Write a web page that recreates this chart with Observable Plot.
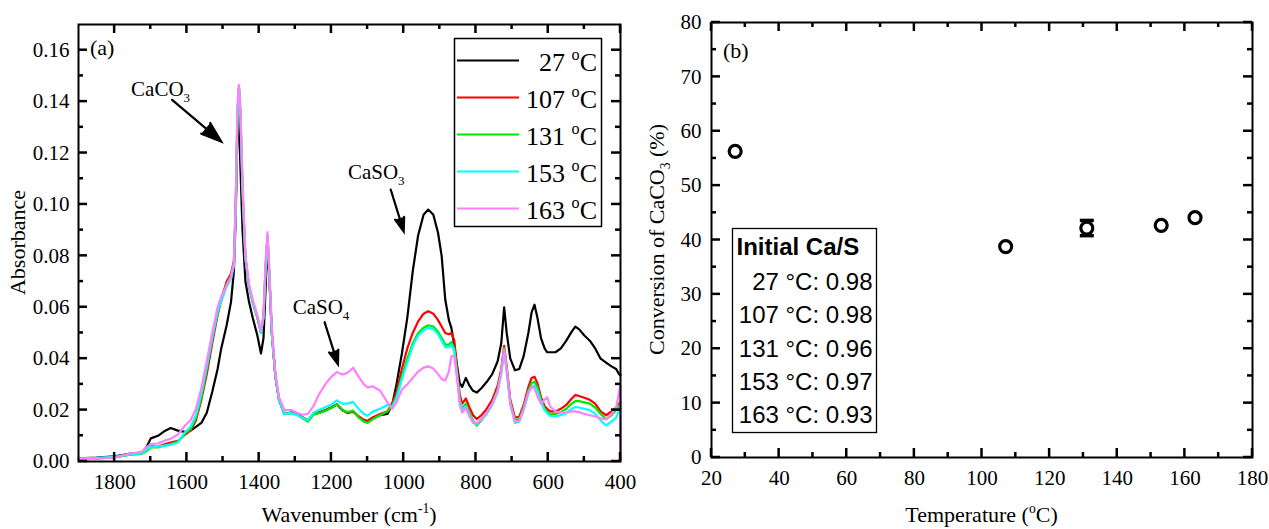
<!DOCTYPE html>
<html><head><meta charset="utf-8">
<script src="https://cdn.jsdelivr.net/npm/d3@7"></script>
<script src="https://cdn.jsdelivr.net/npm/@observablehq/plot@0.6"></script>
<style>
body{margin:0;background:#fff;}
#wrap{display:flex;width:1269px;height:529px;}
svg{overflow:visible}
</style></head><body><div id="wrap"></div>
<script>
// ---------- Panel (a) data: FTIR spectra ----------
const wavenumbers = [
  1900,1850,1800,1760,1725,1712,1700,1680,1660,1645,
  1625,1605,1590,1575,1560,1545,1530,1515,1505,1490,
  1478,1470,1465,1460,1456,1452,1446,1438,1428,1418,
  1405,1395,1388,1382,1377,1372,1365,1355,1345,1330,
  1310,1295,1280,1265,1250,1235,1215,1200,1185,1170,
  1155,1140,1125,1110,1100,1085,1065,1045,1032,1020,
  1005,990,975,960,945,932,918,905,895,885,
  875,868,860,852,845,838,828,818,808,798,
  785,770,755,740,730,722,715,705,692,680,
  668,655,646,638,630,620,610,603,595,580,
  565,550,535,525,515,500,485,470,455,440,
  425,412,404,400,400
];
const abs27 = [
  .0012,.0015,.0020,.0030,.0035,.0055,.0090,.0100,.0120,.0130,
  .0120,.0115,.0120,.0135,.0150,.0190,.0270,.0360,.0440,.0530,
  .0620,.0740,.0950,.1300,.1340,.1150,.0900,.0700,.0620,.0560,
  .0490,.0420,.0480,.0680,.0850,.0720,.0500,.0330,.0240,.0185,
  .0190,.0185,.0170,.0160,.0185,.0190,.0200,.0210,.0222,.0200,
  .0190,.0195,.0175,.0160,.0155,.0170,.0180,.0185,.0220,.0300,
  .0420,.0560,.0740,.0880,.0960,.0980,.0960,.0890,.0800,.0630,
  .0550,.0520,.0450,.0370,.0305,.0290,.0325,.0295,.0275,.0268,
  .0285,.0310,.0340,.0390,.0460,.0600,.0500,.0400,.0355,.0360,
  .0410,.0500,.0580,.0610,.0560,.0480,.0440,.0425,.0425,.0425,
  .0440,.0470,.0505,.0525,.0515,.0490,.0470,.0440,.0400,.0385,
  .0370,.0360,.0340,.0335,.0335
];
const abs107 = [
  .0010,.0012,.0017,.0028,.0032,.0045,.0060,.0057,.0068,.0074,
  .0080,.0105,.0120,.0160,.0240,.0340,.0460,.0570,.0630,.0700,
  .0730,.0780,.0990,.1350,.1455,.1350,.1050,.0790,.0680,.0620,
  .0560,.0500,.0560,.0760,.0875,.0730,.0500,.0330,.0240,.0185,
  .0190,.0185,.0172,.0160,.0185,.0190,.0200,.0210,.0222,.0200,
  .0188,.0195,.0175,.0162,.0158,.0172,.0185,.0195,.0225,.0270,
  .0360,.0440,.0500,.0545,.0575,.0585,.0575,.0550,.0525,.0500,
  .0495,.0500,.0470,.0360,.0260,.0225,.0245,.0210,.0180,.0165,
  .0180,.0205,.0240,.0295,.0360,.0450,.0370,.0240,.0170,.0175,
  .0220,.0290,.0325,.0330,.0305,.0250,.0215,.0205,.0195,.0195,
  .0205,.0220,.0245,.0258,.0255,.0248,.0240,.0225,.0195,.0180,
  .0195,.0210,.0225,.0230,.0230
];
const abs131 = [
  .0010,.0012,.0016,.0026,.0030,.0040,.0055,.0055,.0063,.0068,
  .0076,.0110,.0125,.0170,.0250,.0360,.0480,.0575,.0625,.0690,
  .0720,.0770,.0980,.1350,.1455,.1350,.1050,.0790,.0680,.0620,
  .0560,.0505,.0560,.0760,.0875,.0730,.0500,.0330,.0240,.0185,
  .0188,.0182,.0168,.0155,.0182,.0188,.0198,.0208,.0222,.0200,
  .0192,.0198,.0172,.0155,.0150,.0165,.0180,.0195,.0215,.0255,
  .0330,.0400,.0460,.0500,.0520,.0530,.0525,.0505,.0480,.0455,
  .0455,.0465,.0440,.0340,.0240,.0205,.0225,.0190,.0160,.0140,
  .0160,.0190,.0225,.0280,.0350,.0440,.0360,.0230,.0160,.0165,
  .0210,.0275,.0305,.0310,.0290,.0240,.0205,.0195,.0185,.0185,
  .0192,.0205,.0225,.0235,.0235,.0230,.0225,.0210,.0185,.0165,
  .0180,.0200,.0220,.0225,.0225
];
const abs153 = [
  .0012,.0014,.0018,.0027,.0032,.0045,.0058,.0058,.0062,.0065,
  .0075,.0115,.0135,.0180,.0265,.0370,.0480,.0585,.0625,.0680,
  .0710,.0760,.0970,.1360,.1460,.1360,.1060,.0790,.0680,.0620,
  .0565,.0500,.0560,.0760,.0880,.0730,.0500,.0330,.0240,.0185,
  .0188,.0180,.0170,.0160,.0190,.0200,.0212,.0222,.0238,.0225,
  .0225,.0232,.0205,.0185,.0178,.0195,.0205,.0220,.0212,.0245,
  .0320,.0385,.0450,.0490,.0510,.0520,.0515,.0495,.0470,.0445,
  .0445,.0455,.0430,.0330,.0235,.0200,.0215,.0180,.0155,.0145,
  .0165,.0185,.0220,.0270,.0340,.0430,.0350,.0220,.0150,.0155,
  .0200,.0265,.0290,.0295,.0275,.0230,.0200,.0188,.0178,.0175,
  .0180,.0188,.0205,.0212,.0210,.0205,.0200,.0185,.0160,.0140,
  .0155,.0170,.0200,.0205,.0205
];
const abs163 = [
  .0008,.0011,.0016,.0030,.0038,.0055,.0068,.0070,.0082,.0088,
  .0105,.0140,.0160,.0205,.0285,.0390,.0500,.0600,.0640,.0685,
  .0720,.0770,.1000,.1380,.1465,.1380,.1080,.0800,.0690,.0630,
  .0570,.0510,.0570,.0780,.0892,.0750,.0520,.0340,.0250,.0200,
  .0200,.0190,.0182,.0185,.0215,.0260,.0305,.0330,.0348,.0338,
  .0345,.0365,.0330,.0300,.0288,.0292,.0275,.0230,.0205,.0230,
  .0280,.0300,.0325,.0350,.0365,.0370,.0362,.0340,.0320,.0315,
  .0350,.0410,.0410,.0320,.0220,.0190,.0210,.0175,.0150,.0148,
  .0165,.0190,.0225,.0275,.0345,.0435,.0360,.0225,.0155,.0158,
  .0205,.0270,.0290,.0285,.0255,.0225,.0240,.0250,.0215,.0195,
  .0190,.0190,.0195,.0195,.0192,.0185,.0180,.0175,.0168,.0165,
  .0185,.0210,.0270,.0295,.0000
];
const seriesNames = ["27", "107", "131", "153", "163"];
const seriesColors = ["#000000", "#ff0000", "#00e800", "#00ffff", "#ff80ff"];
const seriesValues = [abs27, abs107, abs131, abs153, abs163];

const xTicksA = [1800, 1600, 1400, 1200, 1000, 800, 600, 400];
const xMinorA = [1700, 1500, 1300, 1100, 900, 700, 500];
const yTicksA = [0, 0.02, 0.04, 0.06, 0.08, 0.10, 0.12, 0.14, 0.16];
const yMinorA = [0.01, 0.03, 0.05, 0.07, 0.09, 0.11, 0.13, 0.15];

// annotations (data coordinates)
const annotLabels = ["CaCO{_3}", "CaSO{_3}", "CaSO{_4}"];
const annotTextX = [1753, 1153, 1306];
const annotTextY = [0.1419, 0.1097, 0.0572];
const annotFromX = [1641, 1036, 1219];
const annotFromY = [0.1407, 0.1058, 0.0542];
const annotToX = [1505, 1000, 1182];
const annotToY = [0.1245, 0.0895, 0.0378];

// ---------- Panel (b) data ----------
const temperatures = [27, 107, 131, 153, 163];
const conversion = [56.3, 38.8, 42.2, 42.7, 44.1];
const convError = [0, 0, 1.4, 0, 0];
const caS = ["0.98", "0.98", "0.96", "0.97", "0.93"];
const xTicksB = [20, 40, 60, 80, 100, 120, 140, 160, 180];
const xMinorB = [30, 50, 70, 90, 110, 130, 150, 170];
const yTicksB = [0, 10, 20, 30, 40, 50, 60, 70, 80];
const yMinorB = [5, 15, 25, 35, 45, 55, 65, 75];

// ---------- helpers ----------
function richText(t, str, fs) {
  const re = /\{([_^])([^}]*)\}/g;
  let last = 0, m, shift = 0;
  const add = (txt, mode) => {
    if (!txt) return;
    const ts = t.append("tspan").text(txt);
    const target = mode === "_" ? fs * 0.28 : mode === "^" ? -fs * 0.42 : 0;
    if (target - shift !== 0) ts.attr("dy", target - shift);
    shift = target;
    if (mode) ts.attr("font-size", fs * 0.62);
  };
  while ((m = re.exec(str))) { add(str.slice(last, m.index), null); add(m[2], m[1]); last = re.lastIndex; }
  add(str.slice(last), null);
  return t;
}
const serif = "'Liberation Serif', 'Times New Roman', serif";
const sans = "'Liberation Sans', Arial, sans-serif";
const H = 529;
const MAJ = 9, MIN = 5;

// inward ticks on all four sides, positioned with the chart's own scales
function drawTicks(svg, chart, W, m, xMaj, xMin, yMaj, yMin) {
  const sx = chart.scale("x"), sy = chart.scale("y");
  const t0 = m.top, b0 = H - m.bottom, l0 = m.left, r0 = W - m.right;
  const g = svg.append("g").attr("stroke", "black").attr("stroke-width", 2.5);
  const seg = (x1, y1, x2, y2) => g.append("line").attr("x1", x1).attr("y1", y1).attr("x2", x2).attr("y2", y2);
  xMaj.forEach(v => { const x = sx.apply(v); seg(x, b0, x, b0 - MAJ); seg(x, t0, x, t0 + MAJ); });
  xMin.forEach(v => { const x = sx.apply(v); seg(x, b0, x, b0 - MIN); seg(x, t0, x, t0 + MIN); });
  yMaj.forEach(v => { const y = sy.apply(v); seg(l0, y, l0 + MAJ, y); seg(r0, y, r0 - MAJ, y); });
  yMin.forEach(v => { const y = sy.apply(v); seg(l0, y, l0 + MIN, y); seg(r0, y, r0 - MIN, y); });
}

// ---------- Panel (a) ----------
const W_A = 640;
const mA = {top: 24, right: 20, bottom: 68, left: 78};
const inHA = H - mA.top - mA.bottom, inWA = W_A - mA.left - mA.right;

const lineMarks = seriesValues.map((vals, k) =>
  Plot.line(wavenumbers.map((w, i) => ({w, v: vals[i]})), {x: "w", y: "v", stroke: seriesColors[k], strokeWidth: 2.2})
);
const annot = annotLabels.map((l, i) => ({l, x1: annotFromX[i], y1: annotFromY[i], x2: annotToX[i], y2: annotToY[i]}));

const chartA = Plot.plot({
  width: W_A, height: H,
  marginTop: mA.top, marginRight: mA.right, marginBottom: mA.bottom, marginLeft: mA.left,
  style: {fontFamily: serif, fontSize: "21px", color: "black", background: "white", overflow: "visible"},
  x: {domain: [1900, 400]},
  y: {domain: [0, 0.17]},
  marks: [
    ...lineMarks,
    Plot.arrow(annot, {x1: "x1", y1: "y1", x2: "x2", y2: "y2", stroke: "black", fill: "black", strokeWidth: 2.2, headLength: 15, headAngle: 38, strokeLinejoin: "miter", strokeMiterlimit: 10}),
    Plot.frame({stroke: "black", strokeWidth: 2}),
    Plot.axisX({ticks: xTicksA, tickSize: 0, tickPadding: 13, tickFormat: d => String(d), label: null}),
    Plot.axisY({ticks: yTicksA, tickSize: 0, tickPadding: 9, tickFormat: d3.format(".2f"), label: null})
  ]
});

const sA = d3.select(chartA);
const sxA = chartA.scale("x"), syA = chartA.scale("y");
drawTicks(sA, chartA, W_A, mA, xTicksA, xMinorA, yTicksA, yMinorA);
annotLabels.forEach((l, i) => {
  const t = sA.append("text").attr("x", sxA.apply(annotTextX[i])).attr("y", syA.apply(annotTextY[i]))
    .attr("text-anchor", "start").attr("font-size", 21).attr("fill", "black");
  richText(t, l, 21);
});
sA.append("text").attr("x", mA.left + 12).attr("y", mA.top + 31).attr("text-anchor", "start").attr("font-size", 22).text("(a)");
richText(sA.append("text").attr("x", mA.left + inWA / 2).attr("y", 522).attr("text-anchor", "middle").attr("font-size", 22), "Wavenumber (cm{^-1})", 22);
sA.append("text").attr("transform", `translate(25,${mA.top + inHA / 2}) rotate(-90)`).attr("text-anchor", "middle").attr("font-size", 22).text("Absorbance");

const lgA = sA.append("g");
lgA.append("rect").attr("x", 454.5).attr("y", 38.5).attr("width", 147).attr("height", 188)
  .attr("fill", "white").attr("stroke", "black").attr("stroke-width", 1.5);
seriesNames.forEach((n, i) => {
  const y = 60.5 + 37 * i;
  lgA.append("line").attr("x1", 457).attr("x2", 519).attr("y1", y).attr("y2", y)
    .attr("stroke", seriesColors[i]).attr("stroke-width", 2.2);
  const t = lgA.append("text").attr("x", 597).attr("y", y + 10).attr("text-anchor", "end").attr("font-size", 26);
  richText(t, n + " {^o}C", 26);
});

// ---------- Panel (b) ----------
const W_B = 629;
const mB = {top: 22, right: 17, bottom: 72, left: 71};
const inHB = H - mB.top - mB.bottom, inWB = W_B - mB.left - mB.right;
const rowsB = temperatures.map((t, i) => ({t, c: conversion[i], lo: conversion[i] - convError[i], hi: conversion[i] + convError[i], e: convError[i]}));
const errRows = rowsB.filter(d => d.e > 0);
const capSymbol = {draw(ctx, size) { const w = Math.sqrt(size / Math.PI); ctx.moveTo(-w, 0); ctx.lineTo(w, 0); }};

const chartB = Plot.plot({
  width: W_B, height: H,
  marginTop: mB.top, marginRight: mB.right, marginBottom: mB.bottom, marginLeft: mB.left,
  style: {fontFamily: serif, fontSize: "21px", color: "black", background: "white", overflow: "visible"},
  x: {domain: [20, 180]},
  y: {domain: [0, 80]},
  marks: [
    Plot.ruleX(errRows, {x: "t", y1: "lo", y2: "hi", stroke: "black", strokeWidth: 2.5}),
    Plot.dot(errRows, {x: "t", y: "lo", symbol: capSymbol, r: 7, stroke: "black", strokeWidth: 3.5}),
    Plot.dot(errRows, {x: "t", y: "hi", symbol: capSymbol, r: 7, stroke: "black", strokeWidth: 3.5}),
    Plot.dot(rowsB, {x: "t", y: "c", r: 6, stroke: "black", fill: "white", strokeWidth: 3.2}),
    Plot.frame({stroke: "black", strokeWidth: 2}),
    Plot.axisX({ticks: xTicksB, tickSize: 0, tickPadding: 13, tickFormat: d => String(d), label: null}),
    Plot.axisY({ticks: yTicksB, tickSize: 0, tickPadding: 10, tickFormat: d => String(d), label: null})
  ]
});
const sB = d3.select(chartB);
drawTicks(sB, chartB, W_B, mB, xTicksB, xMinorB, yTicksB, yMinorB);
sB.append("text").attr("x", mB.left + 12).attr("y", mB.top + 36).attr("text-anchor", "start").attr("font-size", 22).text("(b)");
richText(sB.append("text").attr("x", mB.left + inWB / 2).attr("y", 522).attr("text-anchor", "middle").attr("font-size", 22), "Temperature ({^o}C)", 22);
richText(sB.append("text").attr("transform", `translate(24,${mB.top + inHB / 2}) rotate(-90)`).attr("text-anchor", "middle").attr("font-size", 22), "Conversion of CaCO{_3} (%)", 22);

const lgB = sB.append("g").attr("font-family", sans).attr("font-size", 24);
lgB.append("rect").attr("x", 92.5).attr("y", 228.5).attr("width", 144).attr("height", 204)
  .attr("fill", "white").attr("stroke", "black").attr("stroke-width", 1.3);
lgB.append("text").attr("x", 96.5).attr("y", 255).attr("text-anchor", "start").attr("font-weight", "bold").text("Initial Ca/S");
temperatures.forEach((t, i) => {
  lgB.append("text").attr("x", 232.5).attr("y", 290 + 33.3 * i).attr("text-anchor", "end")
    .text(`${t} \u00B0C: ${caS[i]}`);
});

const wrap = document.getElementById("wrap");
wrap.appendChild(chartA);
wrap.appendChild(chartB);
</script></body></html>
